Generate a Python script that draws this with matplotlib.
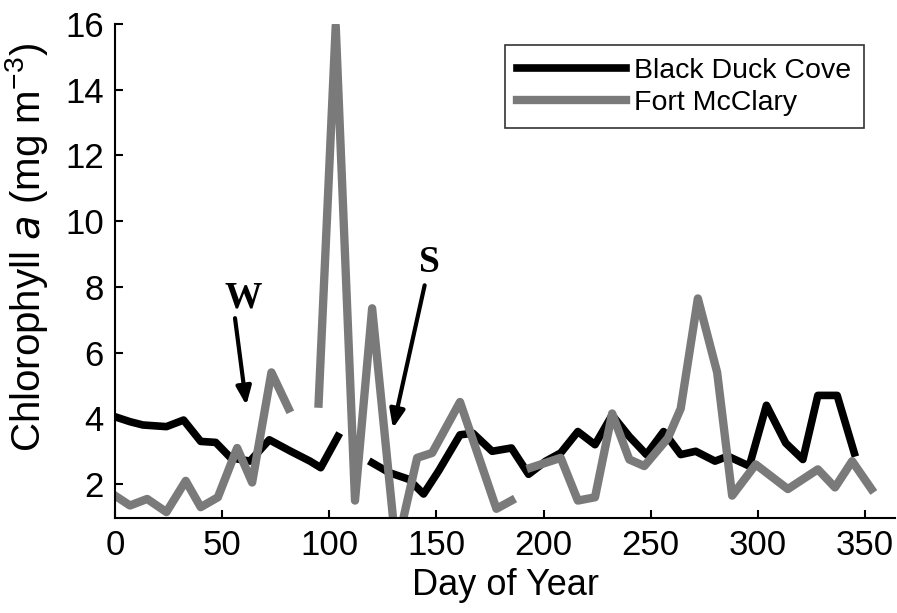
import numpy as np
import matplotlib
matplotlib.use('Agg')
import matplotlib.pyplot as plt

nan = np.nan

# Black Duck Cove (black line), gap where no sampling
bdc_day = [0, 7, 13, 24, 32, 40, 47, 54, 63, 72, 82, 91, 96, 104, nan,
           120, 128, 137, 144, 151, 161, 167, 176, 185, 193, 201, 208, 216,
           224, 232, 240, 248, 256, 264, 271, 280, 286, 296, 304, 313, 321,
           328, 337, 345]
bdc_chl = [4.05, 3.9, 3.8, 3.75, 3.95, 3.3, 3.27, 2.8, 2.7, 3.35, 3.0, 2.7, 2.5, 3.45, nan,
           2.65, 2.35, 2.15, 1.7, 2.4, 3.5, 3.55, 3.0, 3.1, 2.3, 2.7, 2.95, 3.6,
           3.2, 4.1, 3.45, 2.9, 3.6, 2.9, 3.0, 2.7, 2.85, 2.55, 4.4, 3.25, 2.75,
           4.7, 4.7, 2.95]

# Fort McClary (grey line)
fmc_day = [0, 7, 15, 24, 33, 40, 48, 57, 64, 73, 81, nan,
           95, 103, 112, 120, 130, 134, 141, 148, 161, 178, 185, nan,
           194, 208, 216, 224, 232, 240, 247, 258, 264, 272, 281, 288, 299,
           314, 328, 336, 344, 353]
fmc_chl = [1.65, 1.35, 1.55, 1.15, 2.1, 1.3, 1.6, 3.1, 2.05, 5.4, 4.3, nan,
           4.45, 15.95, 1.5, 7.35, 0.8, 0.8, 2.8, 2.95, 4.5, 1.25, 1.5, nan,
           2.5, 2.8, 1.5, 1.6, 4.15, 2.75, 2.55, 3.4, 4.3, 7.65, 5.4, 1.65, 2.6,
           1.85, 2.45, 1.9, 2.7, 1.85]

x_ticks = [0, 50, 100, 150, 200, 250, 300, 350]
y_ticks = [2, 4, 6, 8, 10, 12, 14, 16]

# annotation positions (label, text xy, arrow tail, arrow tip)
notes = [('W', (59.8, 7.65), (56, 7.05), (61.3, 4.4)),
         ('S', (146.8, 8.75), (144.5, 8.05), (129.7, 3.7))]

plt.rcParams['font.family'] = ['Liberation Sans', 'DejaVu Sans']

fig = plt.figure(figsize=(8.97, 6.13), dpi=100)
ax = fig.add_axes([115/897, 1 - 518/613, 780/897, (518 - 24)/613])

ax.plot(bdc_day, bdc_chl, color='black', lw=5.5, label='Black Duck Cove')
ax.plot(fmc_day, fmc_chl, color='#7a7a7a', lw=6, label='Fort McClary')

ax.set_xlim(0, 364)
ax.set_ylim(0.97, 16)
ax.set_xticks(x_ticks)
ax.set_yticks(y_ticks)
ax.tick_params(direction='in', length=6, width=1.5, labelsize=25, pad=8)
for s in ['top', 'right']:
    ax.spines[s].set_visible(False)
for s in ['left', 'bottom']:
    ax.spines[s].set_linewidth(1.5)

ax.set_xlabel('Day of Year', fontsize=26, labelpad=4)
ax.set_ylabel(r'Chlorophyll $\mathit{a}$ (mg m$^{\mathregular{-3}}$)', fontsize=29)
ax.yaxis.set_label_coords(-0.083, 0.548)

for lab, txy, tail, tip in notes:
    ax.text(txy[0], txy[1], lab, fontsize=27, fontweight='bold',
            family='Liberation Serif', ha='center', va='center')
    ax.annotate('', xy=tip, xytext=tail,
                arrowprops=dict(arrowstyle='-|>,head_length=1.1,head_width=0.45',
                                lw=3, color='black', shrinkA=0, shrinkB=0))

leg = ax.legend(loc='upper right', bbox_to_anchor=(864/897, 1 - 45/613),
                bbox_transform=fig.transFigure, fontsize=20.5, frameon=True,
                fancybox=False, borderaxespad=0, handlelength=3.8,
                handletextpad=0.3, borderpad=0.45, labelspacing=0.2)
leg.get_frame().set_edgecolor('black')
leg.get_frame().set_linewidth(1.2)

fig.savefig('out.png', dpi=100)
